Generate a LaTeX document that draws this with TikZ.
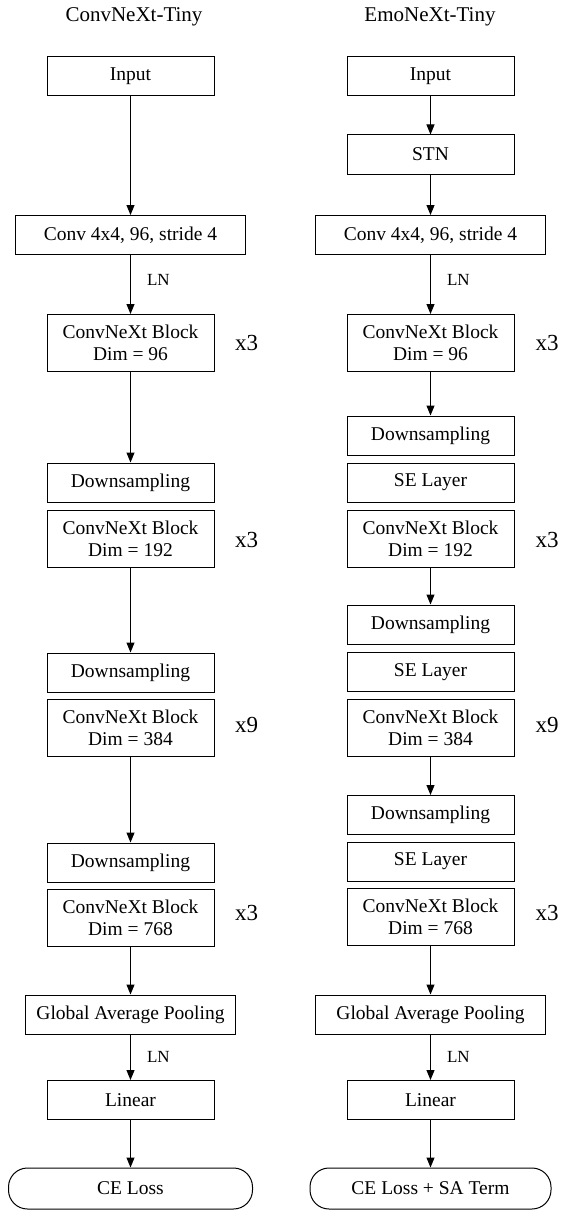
\documentclass[tikz,border=0pt]{standalone}
\usepackage{fontspec}
\setmainfont{Liberation Serif}
\usetikzlibrary{arrows.meta}

\begin{document}
\begin{tikzpicture}[x=1pt, y=-1pt,
    layer/.style={draw, line width=1pt, minimum width=167pt, minimum height=39pt,
        inner sep=0pt, align=center, font=\fontsize{19.5}{22}\selectfont},
    widelayer/.style={layer, minimum width=230pt},
    block/.style={layer, minimum height=57pt},
    loss/.style={layer, minimum height=41pt, rounded corners=19pt},
    flow/.style={line width=1pt, -{Triangle[length=10pt,width=8pt]}},
    norm/.style={right, inner sep=0pt, xshift=16pt, font=\fontsize{17}{20}\selectfont},
    rep/.style={font=\fontsize{23}{26}\selectfont},
    heading/.style={font=\fontsize{21}{24}\selectfont}
    ]

    \useasboundingbox (0,0) rectangle (561,1220);

    % ConvNeXt-Tiny
    \node[heading] (titleL) at (134,17) {ConvNeXt-Tiny};
    \node[layer] (inL) at (130.5,76.5) {Input};
    \node[widelayer] (convL) at (130.5,235) {Conv 4x4, 96, stride 4};
    \node[block] (cb1L) at (130.5,343) {ConvNeXt Block\\Dim = 96};
    \node[layer] (ds1L) at (130.5,482.5) {Downsampling};
    \node[block] (cb2L) at (130.5,538.5) {ConvNeXt Block\\Dim = 192};
    \node[layer] (ds2L) at (130.5,672.5) {Downsampling};
    \node[block] (cb3L) at (130.5,727.5) {ConvNeXt Block\\Dim = 384};
    \node[layer] (ds3L) at (130.5,862.5) {Downsampling};
    \node[block] (cb4L) at (130.5,917.5) {ConvNeXt Block\\Dim = 768};
    \node[widelayer, minimum width=210pt] (gapL) at (130.5,1014.5) {Global Average Pooling};
    \node[layer] (linL) at (130.5,1100) {Linear};
    \node[loss, minimum width=244pt] (ceL) at (130.5,1188.5) {CE Loss};

    \node[rep] (r1L) at (246.5,343) {x3};
    \node[rep] (r2L) at (246.5,540) {x3};
    \node[rep] (r3L) at (246.5,725) {x9};
    \node[rep] (r4L) at (246.5,913) {x3};

    \draw[flow] (inL) -- (convL);
    \draw[flow] (convL) -- (cb1L) node[norm, pos=0.43] {LN};
    \draw[flow] (cb1L) -- (ds1L);
    \draw[flow] (cb2L) -- (ds2L);
    \draw[flow] (cb3L) -- (ds3L);
    \draw[flow] (cb4L) -- (gapL);
    \draw[flow] (gapL) -- (linL) node[norm, midway] {LN};
    \draw[flow] (linL) -- (ceL);

    % EmoNeXt-Tiny
    \node[heading] (titleR) at (430,17) {EmoNeXt-Tiny};
    \node[layer] (inR) at (430.5,76.5) {Input};
    \node[layer] (stnR) at (430.5,154.5) {STN};
    \node[widelayer] (convR) at (430.5,235) {Conv 4x4, 96, stride 4};
    \node[block] (cb1R) at (430.5,343) {ConvNeXt Block\\Dim = 96};
    \node[layer] (ds1R) at (430.5,435.5) {Downsampling};
    \node[layer] (se1R) at (430.5,482.5) {SE Layer};
    \node[block] (cb2R) at (430.5,538.5) {ConvNeXt Block\\Dim = 192};
    \node[layer] (ds2R) at (430.5,624.5) {Downsampling};
    \node[layer] (se2R) at (430.5,672) {SE Layer};
    \node[block] (cb3R) at (430.5,727.5) {ConvNeXt Block\\Dim = 384};
    \node[layer] (ds3R) at (430.5,815) {Downsampling};
    \node[layer] (se3R) at (430.5,861.5) {SE Layer};
    \node[block] (cb4R) at (430.5,917) {ConvNeXt Block\\Dim = 768};
    \node[widelayer] (gapR) at (430.5,1014.5) {Global Average Pooling};
    \node[layer] (linR) at (430.5,1100) {Linear};
    \node[loss, minimum width=241pt] (ceR) at (430.5,1188.5) {CE Loss + SA Term};

    \node[rep] (r1R) at (547,343) {x3};
    \node[rep] (r2R) at (547,540) {x3};
    \node[rep] (r3R) at (547,725) {x9};
    \node[rep] (r4R) at (547,913) {x3};

    \draw[flow] (inR) -- (stnR);
    \draw[flow] (stnR) -- (convR);
    \draw[flow] (convR) -- (cb1R) node[norm, pos=0.43] {LN};
    \draw[flow] (cb1R) -- (ds1R);
    \draw[flow] (cb2R) -- (ds2R);
    \draw[flow] (cb3R) -- (ds3R);
    \draw[flow] (cb4R) -- (gapR);
    \draw[flow] (gapR) -- (linR) node[norm, midway] {LN};
    \draw[flow] (linR) -- (ceR);

\end{tikzpicture}
\end{document}
